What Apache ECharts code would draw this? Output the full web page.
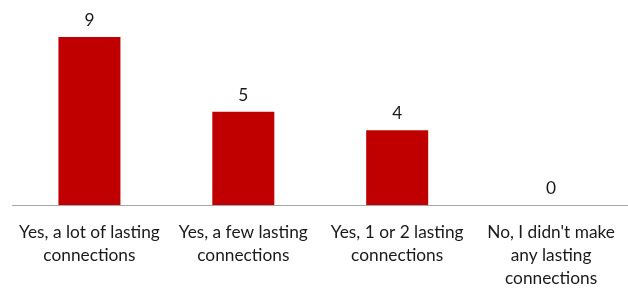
<!DOCTYPE html>
<html><head><meta charset="utf-8">
<script src="https://cdn.jsdelivr.net/npm/echarts@6/dist/echarts.min.js"></script>
<style>html,body{margin:0;padding:0;background:#fff}#c{width:628px;height:290px}</style>
</head><body><div id="c"></div>
<script>
const categories = ["Yes, a lot of lasting\nconnections", "Yes, a few lasting\nconnections", "Yes, 1 or 2 lasting\nconnections", "No, I didn't make\nany lasting\nconnections"];
const values = [9, 5, 4, 0];
const FONT = "Lato";
const chart = echarts.init(document.getElementById('c'), null, {renderer: 'canvas'});
chart.setOption({
  animation: false,
  grid: {left: 12.5, right: -7, top: 18.4, bottom: 82, containLabel: false},
  xAxis: {
    type: 'category', data: categories,
    axisLine: {lineStyle: {color: '#A6A6A6', width: 1}},
    axisTick: {show: false},
    axisLabel: {interval: 0, color: '#1a1a1a', fontFamily: FONT, fontSize: 17.3, lineHeight: 23, margin: 16}
  },
  yAxis: {type: 'value', min: 0, max: 10, show: false, splitLine: {show: false}},
  series: [{
    type: 'bar', data: values, barWidth: 62,
    itemStyle: {color: '#C00000'},
    label: {show: true, position: 'top', distance: 8, color: '#1a1a1a', fontFamily: FONT, fontSize: 17.3}
  }]
});
</script></body></html>
